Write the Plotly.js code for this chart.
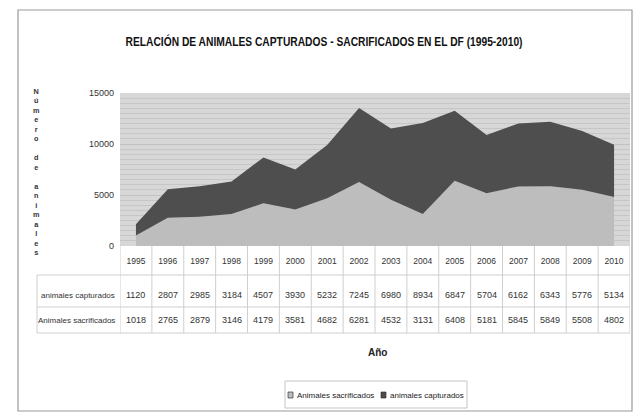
<!DOCTYPE html>
<html><head><meta charset="utf-8">
<script src="https://cdn.plot.ly/plotly-3.0.1.min.js"></script>
<style>html,body{margin:0;padding:0;background:#fff}#chart{width:638px;height:414px}</style>
</head><body><div id="chart"></div>
<script>
const years = ["1995","1996","1997","1998","1999","2000","2001","2002","2003","2004","2005","2006","2007","2008","2009","2010"];
const capturados = [1120, 2807, 2985, 3184, 4507, 3930, 5232, 7245, 6980, 8934, 6847, 5704, 6162, 6343, 5776, 5134];
const sacrificados = [1018, 2765, 2879, 3146, 4179, 3581, 4682, 6281, 4532, 3131, 6408, 5181, 5845, 5849, 5508, 4802];
const nameCapt = "animales capturados";
const nameSacr = "Animales sacrificados";
const yTicks = [0, 5000, 10000, 15000];

const FONT = "Liberation Sans, Arial, sans-serif";
const idx = years.map((_, i) => i);
const colSacr = "#bdbdbd", colCapt = "#4e4e4e";

// pixel helpers (plot: x 120..630, y 93..246)
const L = 120, R = 630, T = 93, B = 246;
const px2x = p => (p - L) / (R - L);
const py2y = p => (B - p) / (B - T);

const traces = [
  {x: idx, y: sacrificados, name: nameSacr, type: "scatter", mode: "none", stackgroup: "one",
   fillcolor: colSacr, line: {width: 0}},
  {x: idx, y: capturados, name: nameCapt, type: "scatter", mode: "none", stackgroup: "one",
   fillcolor: colCapt, line: {width: 0}}
];

const shapes = [];
const annotations = [];
shapes.push({type: "rect", xref: "paper", yref: "paper", x0: px2x(18), x1: px2x(632), y0: py2y(411), y1: py2y(10),
  line: {color: "#9a9a9a", width: 1.2}, layer: "below"});
for (let k = 0; k <= years.length; k++) {
  shapes.push({type: "line", xref: "x", yref: "paper", x0: k - 0.5, x1: k - 0.5, y0: py2y(246), y1: py2y(333),
    line: {color: "#cfcfcf", width: 1}});
}
[275, 307, 333].forEach(p => shapes.push({type: "line", xref: "paper", yref: "paper", x0: px2x(37), x1: px2x(630),
  y0: py2y(p), y1: py2y(p), line: {color: "#cfcfcf", width: 1}}));
shapes.push({type: "line", xref: "paper", yref: "paper", x0: px2x(37), x1: px2x(37), y0: py2y(275), y1: py2y(333),
  line: {color: "#cfcfcf", width: 1}});

const rowFont = {family: FONT, size: 9, color: "#333"};
const labFont = {family: FONT, size: 8, color: "#333"};
idx.forEach(i => {
  annotations.push({x: i, xref: "x", xanchor: "center", y: py2y(295), yref: "paper", yanchor: "middle",
    text: String(capturados[i]), showarrow: false, font: rowFont});
  annotations.push({x: i, xref: "x", xanchor: "center", y: py2y(320), yref: "paper", yanchor: "middle",
    text: String(sacrificados[i]), showarrow: false, font: rowFont});
});
annotations.push({x: px2x(117), xref: "paper", xanchor: "right", y: py2y(295), yref: "paper", yanchor: "middle",
  text: nameCapt, showarrow: false, font: labFont});
annotations.push({x: px2x(117), xref: "paper", xanchor: "right", y: py2y(320), yref: "paper", yanchor: "middle",
  text: nameSacr, showarrow: false, font: labFont});
annotations.push({x: px2x(377), xref: "paper", xanchor: "center", y: py2y(352), yref: "paper", yanchor: "middle",
  text: "Año", showarrow: false, font: {family: FONT, size: 10, color: "#222", weight: "bold"}});
const ytitle = "Número de animales".split("").map(c => c === " " ? "\u00a0" : c).join("<br>");
annotations.push({x: px2x(36), xref: "paper", xanchor: "center", y: py2y(172), yref: "paper", yanchor: "middle",
  text: ytitle, showarrow: false, font: {family: FONT, size: 7.3, color: "#333", weight: "bold"}});

// legend (box, swatches, labels)
shapes.push({type: "rect", xref: "paper", yref: "paper", x0: px2x(285), x1: px2x(467), y0: py2y(408), y1: py2y(381),
  line: {color: "#c4c4c4", width: 1}, fillcolor: "#fff"});
const legendItems = [[nameSacr, colSacr, 288, 295], [nameCapt, colCapt, 381, 388]];
legendItems.forEach(([nm, col, sx, tx]) => {
  shapes.push({type: "rect", xref: "paper", yref: "paper", x0: px2x(sx), x1: px2x(sx + 5), y0: py2y(398), y1: py2y(392),
    line: {color: "#222", width: 0.6}, fillcolor: col});
  annotations.push({x: px2x(tx), xref: "paper", xanchor: "left", y: py2y(395), yref: "paper", yanchor: "middle",
    text: nm, showarrow: false, font: {family: FONT, size: 8, color: "#222"}});
});

const layout = {
  width: 638, height: 414,
  margin: {l: L, r: 638 - R, t: T, b: 414 - B, pad: 0},
  paper_bgcolor: "#fff", plot_bgcolor: "#d7d7d7",
  title: {text: "RELACIÓN DE ANIMALES CAPTURADOS - SACRIFICADOS EN EL DF (1995-2010)",
    x: 324 / 638, xanchor: "center", y: 1 - 41 / 414, yanchor: "middle",
    font: {family: FONT, size: 13, color: "#111", weight: "bold"}},
  xaxis: {range: [-0.5, 15.5], tickvals: idx, ticktext: years, showgrid: false, zeroline: false,
    ticks: "", showline: false, tickfont: {family: FONT, size: 8.5, color: "#333"}, ticklabelstandoff: 8, fixedrange: true},
  yaxis: {range: [0, 15000], tickvals: yTicks, ticktext: yTicks.map(String), showgrid: true, gridcolor: "#c2c2c2",
    gridwidth: 1, zeroline: false, ticks: "", tickfont: {family: FONT, size: 9, color: "#333"},
    minor: {dtick: 500, showgrid: true, gridcolor: "#c6c6c6", gridwidth: 1},
    ticklabelstandoff: 5, fixedrange: true},
  showlegend: false,
  shapes: shapes, annotations: annotations
};
Plotly.newPlot("chart", traces, layout, {displayModeBar: false, staticPlot: true}).then(gd => {
  const t = gd.querySelector(".gtitle");
  if (t) { t.setAttribute("textLength", "397"); t.setAttribute("lengthAdjust", "spacingAndGlyphs"); }
});
</script></body></html>
